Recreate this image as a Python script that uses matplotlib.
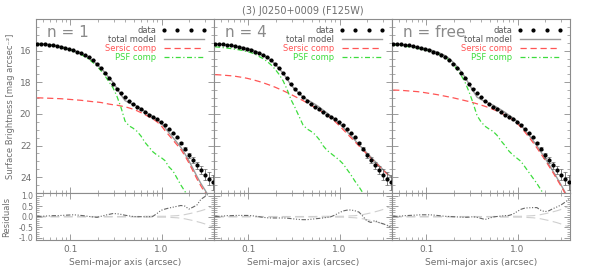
import numpy as np
import matplotlib.pyplot as plt
from matplotlib.ticker import FixedLocator, FixedFormatter, NullFormatter, LogLocator, MultipleLocator

nan = np.nan

# radii of the profile points (arcsec)
radius = [0.0432, 0.0478, 0.0529, 0.0585, 0.0647, 0.0716, 0.0792, 0.0876, 0.0969, 0.1071,
          0.1185, 0.1310, 0.1449, 0.1603, 0.1773, 0.1961, 0.2169, 0.2399, 0.2654, 0.2934,
          0.3245, 0.3590, 0.3970, 0.4391, 0.4856, 0.5371, 0.5941, 0.6570, 0.7267, 0.8038,
          0.8890, 0.9833, 1.0875, 1.203, 1.330, 1.471, 1.627, 1.800, 1.991, 2.202,
          2.435, 2.693, 2.979, 3.295, 3.644]

# observed surface brightness (mag/arcsec^2) and errors
sb_data = [15.55, 15.57, 15.59, 15.62, 15.66, 15.70, 15.76, 15.82, 15.89, 15.97,
           16.06, 16.16, 16.27, 16.40, 16.58, 16.82, 17.10, 17.40, 17.75, 18.12,
           18.40, 18.67, 18.93, 19.18, 19.37, 19.55, 19.72, 19.88, 20.05, 20.20,
           20.35, 20.52, 20.68, 20.98, 21.22, 21.48, 21.82, 22.20, 22.62, 22.92,
           23.25, 23.55, 23.85, 24.10, 24.33]
sb_err = [0.01, 0.01, 0.01, 0.01, 0.01, 0.01, 0.01, 0.01, 0.01, 0.01,
          0.01, 0.01, 0.01, 0.01, 0.01, 0.01, 0.01, 0.01, 0.01, 0.01,
          0.01, 0.01, 0.01, 0.01, 0.01, 0.01, 0.02, 0.02, 0.02, 0.02,
          0.02, 0.02, 0.02, 0.03, 0.04, 0.05, 0.07, 0.10, 0.14, 0.18,
          0.23, 0.28, 0.34, 0.42, 0.48]

# n = 1 fit
psf_n1 = [15.58, 15.60, 15.62, 15.65, 15.69, 15.73, 15.79, 15.86, 15.94, 16.03,
          16.13, 16.25, 16.39, 16.56, 16.76, 17.00, 17.27, 17.60, 17.98, 18.35,
          18.90, 19.60, 20.45, 20.75, 20.90, 21.10, 21.40, 21.80, 22.10, 22.40,
          22.60, 22.75, 22.95, 23.35, 23.60, 24.05, 24.50, 24.90, 25.30, nan,
          nan, nan, nan, nan, nan]
ser_n1 = [18.98, 18.99, 19.00, 19.01, 19.02, 19.03, 19.04, 19.06, 19.08, 19.10,
          19.12, 19.14, 19.17, 19.20, 19.23, 19.25, 19.28, 19.33, 19.38, 19.42,
          19.45, 19.50, 19.55, 19.62, 19.70, 19.80, 19.92, 20.05, 20.18, 20.32,
          20.50, 20.72, 21.05, 21.35, 21.65, 21.95, 22.25, 22.65, 23.10, 23.60,
          24.10, 24.55, 24.97, 25.40, nan]
tot_n1 = [15.53, 15.56, 15.58, 15.61, 15.65, 15.69, 15.74, 15.81, 15.89, 15.97,
          16.07, 16.18, 16.31, 16.47, 16.65, 16.87, 17.11, 17.40, 17.72, 18.00,
          18.39, 18.80, 19.16, 19.29, 19.39, 19.51, 19.67, 19.85, 20.01, 20.17,
          20.35, 20.56, 20.88, 21.19, 21.49, 21.80, 22.12, 22.52, 22.96, 23.45,
          23.94, 24.40, 24.80, 25.23, 25.68]
res_n1 = [0.01, 0.02, 0.03, 0.04, 0.05, 0.05, 0.06, 0.07, 0.08, 0.09,
          0.08, 0.06, 0.04, 0.01, -0.01, -0.03, 0.02, 0.07, 0.11, 0.15,
          0.14, 0.11, 0.07, 0.04, 0.01, 0.00, 0.00, 0.00, 0.00, 0.02,
          0.15, 0.30, 0.36, 0.41, 0.45, 0.49, 0.53, 0.50, 0.36, 0.45,
          0.55, 0.82, 0.95, 1.10, 1.20]

# n = 4 fit
psf_n4 = [15.76, 15.78, 15.81, 15.84, 15.87, 15.91, 15.95, 16.00, 16.06, 16.13,
          16.22, 16.37, 16.51, 16.68, 16.90, 17.17, 17.50, 17.90, 18.45, 19.10,
          19.60, 20.15, 20.70, 20.95, 21.10, 21.30, 21.60, 22.00, 22.30, 22.50,
          22.70, 22.90, 23.15, 23.50, 23.85, 24.25, 24.60, 25.00, 25.40, nan,
          nan, nan, nan, nan, nan]
ser_n4 = [17.52, 17.53, 17.55, 17.57, 17.59, 17.62, 17.66, 17.70, 17.75, 17.81,
          17.88, 17.95, 18.03, 18.12, 18.21, 18.31, 18.42, 18.53, 18.65, 18.77,
          18.90, 19.03, 19.16, 19.30, 19.44, 19.59, 19.74, 19.90, 20.07, 20.27,
          20.48, 20.72, 20.98, 21.24, 21.50, 21.76, 22.02, 22.28, 22.54, 22.80,
          23.05, 23.30, 23.55, 23.78, 24.00]
tot_n4 = [15.57, 15.59, 15.61, 15.64, 15.67, 15.71, 15.75, 15.80, 15.86, 15.92,
          16.01, 16.14, 16.27, 16.42, 16.62, 16.84, 17.14, 17.42, 17.79, 18.18,
          18.44, 18.70, 18.93, 19.10, 19.24, 19.39, 19.56, 19.75, 19.94, 20.14,
          20.35, 20.58, 20.84, 21.11, 21.39, 21.66, 21.95, 22.20, 22.47, 22.73,
          22.99, 23.25, 23.51, 23.75, 23.97]
res_n4 = [0.01, 0.02, 0.03, 0.05, 0.05, 0.06, 0.06, 0.06, 0.06, 0.05,
          0.03, 0.00, -0.03, -0.05, -0.06, -0.06, -0.06, -0.06, -0.07, -0.09,
          -0.11, -0.13, -0.14, -0.14, -0.12, -0.10, -0.08, -0.06, -0.03, 0.00,
          0.08, 0.18, 0.27, 0.31, 0.32, 0.28, 0.22, 0.02, -0.20, -0.27,
          -0.18, -0.27, -0.33, -0.40, -0.50]

# n = free fit
psf_nf = [15.63, 15.66, 15.69, 15.72, 15.76, 15.80, 15.85, 15.90, 15.96, 16.02,
          16.08, 16.16, 16.27, 16.40, 16.60, 16.87, 17.17, 17.55, 18.00, 18.60,
          19.30, 20.10, 20.50, 20.78, 20.95, 21.10, 21.35, 21.70, 22.00, 22.35,
          22.60, 22.80, 23.00, 23.35, 23.70, 24.05, 24.40, 24.80, 25.20, nan,
          nan, nan, nan, nan, nan]
ser_nf = [18.49, 18.50, 18.51, 18.53, 18.55, 18.57, 18.59, 18.62, 18.66, 18.70,
          18.74, 18.78, 18.83, 18.88, 18.93, 18.98, 19.04, 19.10, 19.16, 19.22,
          19.29, 19.36, 19.44, 19.52, 19.61, 19.71, 19.82, 19.94, 20.07, 20.22,
          20.38, 20.58, 20.85, 21.15, 21.47, 21.80, 22.15, 22.52, 22.90, 23.30,
          23.70, 24.12, 24.55, 25.00, 25.45]
tot_nf = [15.56, 15.59, 15.61, 15.64, 15.68, 15.72, 15.77, 15.82, 15.87, 15.93,
          16.00, 16.09, 16.19, 16.31, 16.49, 16.73, 17.00, 17.32, 17.68, 18.11,
          18.54, 18.94, 19.09, 19.22, 19.33, 19.44, 19.59, 19.74, 19.90, 20.08,
          20.25, 20.45, 20.71, 21.02, 21.34, 21.67, 22.02, 22.40, 22.78, 23.20,
          23.60, 24.03, 24.47, 24.93, 25.38]
res_nf = [0.01, 0.02, 0.03, 0.05, 0.06, 0.07, 0.08, 0.09, 0.09, 0.09,
          0.08, 0.06, 0.04, 0.02, 0.01, 0.00, -0.01, -0.02, -0.03, -0.02,
          0.00, -0.03, -0.08, -0.13, -0.08, -0.01, 0.01, 0.03, 0.05, 0.06,
          0.12, 0.24, 0.35, 0.41, 0.42, 0.43, 0.43, 0.30, 0.24, 0.28,
          0.38, 0.46, 0.55, 0.68, 0.82]

panel_names = ["n = 1", "n = 4", "n = free"]
psf_list = [psf_n1, psf_n4, psf_nf]
ser_list = [ser_n1, ser_n4, ser_nf]
tot_list = [tot_n1, tot_n4, tot_nf]
res_list = [res_n1, res_n4, res_nf]
res_ticklabels = ['-1.0', '-0.5', '0.0', '0.5', '1.0']

axcol = "#8c8c8c"
txtcol = "#6e6e6e"
red = "#ff5555"
green = "#3ddc3d"

plt.rcParams['font.family'] = ['DejaVu Sans']

W, H = 594, 277
fig = plt.figure(figsize=(W / 100, H / 100), dpi=100)

x0s = [36, 214, 392]
pw = 178
top_y, mid_y, bot_y = 19, 193, 240

err = np.array(sb_err)


def style(ax):
    for s in ax.spines.values():
        s.set_color(axcol)
        s.set_linewidth(0.8)
    ax.tick_params(which='both', direction='in', top=True, right=True,
                   colors=axcol, labelcolor=txtcol, labelsize=6.5)
    ax.tick_params(which='major', length=4, width=0.6)
    ax.tick_params(which='minor', length=2, width=0.5)
    ax.set_xscale('log')
    ax.set_xlim(0.042, 3.75)
    ax.xaxis.set_major_locator(FixedLocator([0.1, 1.0]))
    ax.xaxis.set_minor_locator(LogLocator(base=10, subs=np.arange(2, 10)))
    ax.xaxis.set_minor_formatter(NullFormatter())


for k in range(3):
    x0 = x0s[k]
    ax = fig.add_axes([x0 / W, 1 - mid_y / H, pw / W, (mid_y - top_y) / H])
    rax = fig.add_axes([x0 / W, 1 - bot_y / H, pw / W, (bot_y - mid_y) / H])
    style(ax)
    style(rax)

    # surface brightness panel
    ax.errorbar(radius, sb_data, yerr=sb_err, fmt='none', ecolor='#666666',
                elinewidth=0.6, capsize=1.2, capthick=0.5, zorder=3)
    ax.plot(radius, sb_data, 'o', color='black', ms=2.0, zorder=4, label='data')
    ax.plot(radius, tot_list[k], '-', color='#9a9a9a', lw=1.0, zorder=2, label='total model')
    ax.plot(radius, ser_list[k], color=red, lw=0.9, ls=(0, (5, 3)), zorder=2, label='Sersic comp')
    ax.plot(radius, psf_list[k], color=green, lw=0.9, ls=(0, (4, 2, 1, 2)), zorder=2, label='PSF comp')
    ax.set_ylim(25, 14)
    ax.yaxis.set_major_locator(FixedLocator([16, 18, 20, 22, 24]))
    ax.yaxis.set_minor_locator(MultipleLocator(0.5))
    ax.xaxis.set_major_formatter(NullFormatter())
    if k == 0:
        ax.set_ylabel("Surface Brightness [mag arcsec\u207b\u00b2]", color=txtcol, fontsize=6)
        ax.yaxis.set_label_coords(-0.12, 0.5)
    else:
        ax.yaxis.set_major_formatter(NullFormatter())

    ax.text(0.06, 0.965, panel_names[k], transform=ax.transAxes, ha='left', va='top',
            fontsize=11, color='#8a8a8a')
    ax.legend(loc='upper right', markerfirst=False, frameon=False, fontsize=6,
              handlelength=5.5, handletextpad=0.6, labelspacing=0.0,
              borderaxespad=0.45, numpoints=4,
              labelcolor=['#555555', '#555555', red, green])

    # residual panel
    rax.plot(radius, err, color='#cfcfcf', lw=0.8, ls=(0, (8, 4)))
    rax.plot(radius, -err, color='#cfcfcf', lw=0.8, ls=(0, (8, 4)))
    rax.plot(radius, res_list[k], color='#666666', lw=0.8, ls=(0, (4, 1.5, 1, 1.5, 1, 1.5, 1, 1.5)))
    rax.set_ylim(-1.1, 1.12)
    rax.yaxis.set_major_locator(FixedLocator([-1.0, -0.5, 0.0, 0.5, 1.0]))
    rax.yaxis.set_minor_locator(MultipleLocator(0.1))
    rax.tick_params(axis='y', labelsize=5.5, pad=2)
    rax.xaxis.set_major_formatter(FixedFormatter(['0.1', '1.0']))
    rax.set_xlabel("Semi-major axis (arcsec)", color=txtcol, fontsize=6.5, labelpad=3)
    if k == 0:
        rax.yaxis.set_major_formatter(FixedFormatter(res_ticklabels))
        rax.set_ylabel("Residuals", color=txtcol, fontsize=6)
        rax.yaxis.set_label_coords(-0.14, 0.5)
    else:
        rax.yaxis.set_major_formatter(NullFormatter())

fig.text((x0s[1] + pw / 2) / W, 1 - 11 / H, "(3) J0250+0009 (F125W)", ha='center', va='center',
         fontsize=7, color=txtcol)

fig.savefig("out.png", dpi=100)
